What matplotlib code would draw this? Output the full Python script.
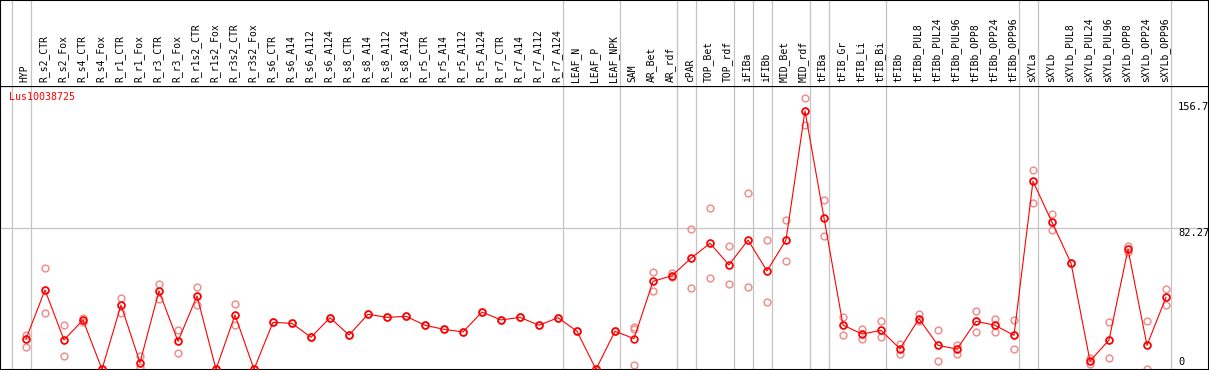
import matplotlib
matplotlib.use("Agg")
import matplotlib.pyplot as plt
from matplotlib.transforms import blended_transform_factory

gene = "Lus10038725"
categories = ["HYP", "R_s2_CTR", "R_s2_Fox", "R_s4_CTR", "R_s4_Fox", "R_r1_CTR", "R_r1_Fox",
              "R_r3_CTR", "R_r3_Fox", "R_r1s2_CTR", "R_r1s2_Fox", "R_r3s2_CTR", "R_r3s2_Fox",
              "R_s6_CTR", "R_s6_A14", "R_s6_A112", "R_s6_A124", "R_s8_CTR", "R_s8_A14",
              "R_s8_A112", "R_s8_A124", "R_r5_CTR", "R_r5_A14", "R_r5_A112", "R_r5_A124",
              "R_r7_CTR", "R_r7_A14", "R_r7_A112", "R_r7_A124", "LEAF_N", "LEAF_P", "LEAF_NPK",
              "SAM", "AR_Bet", "AR_rdf", "cPAR", "TOP_Bet", "TOP_rdf", "iFIBa", "iFIBb",
              "MID_Bet", "MID_rdf", "tFIBa", "tFIB_Gr", "tFIB_Li", "tFIB_Bi", "tFIBb",
              "tFIBb_PUL8", "tFIBb_PUL24", "tFIBb_PUL96", "tFIBb_OPP8", "tFIBb_OPP24",
              "tFIBb_OPP96", "sXYLa", "sXYLb", "sXYLb_PUL8", "sXYLb_PUL24", "sXYLb_PUL96",
              "sXYLb_OPP8", "sXYLb_OPP24", "sXYLb_OPP96"]

means = [17.7, 46.3, 17.1, 28.8, 0.0, 37.5, 3.9, 45.7, 16.3, 42.8, 0.0, 31.7, 0.0,
         27.4, 26.8, 18.7, 30.1, 20.0, 32.1, 30.3, 30.9, 25.7, 23.3, 21.8, 33.4,
         28.8, 30.3, 25.7, 30.1, 22.2, 0.0, 22.2,
         17.9, 51.3, 54.6, 64.8, 73.5, 60.9, 75.4, 57.4, 75.4, 150.7, 88.3,
         25.8, 20.6, 22.7, 12.0, 29.5, 14.0, 11.8, 28.0, 25.7, 19.8,
         109.7, 85.8, 62.0, 4.8, 17.1, 70.0, 14.0, 42.0]

replicates = [
    [20.0, 17.9, 12.8], [58.9, 32.7, 46.3], [25.7, 7.6, 17.1], [30.1, 28.8, 27.8],
    [0.0, 0.0, 0.0], [41.4, 33.0, 37.5], [7.8, 1.5, 3.9], [49.8, 40.8, 45.7],
    [22.9, 9.3, 16.3], [48.0, 37.5, 42.8], [0.0, 0.0, 0.0], [37.9, 25.7, 31.7],
    [0.0, 0.0, 0.0], [27.4, 27.4, 27.4], [26.8, 26.8, 26.8], [18.7, 18.7, 18.7],
    [30.1, 30.1, 30.1], [20.0, 20.0, 20.0], [32.1, 32.1, 32.1], [30.3, 30.3, 30.3],
    [30.9, 30.9, 30.9], [25.7, 25.7, 25.7], [23.3, 23.3, 23.3], [21.8, 21.8, 21.8],
    [33.4, 33.4, 33.4], [28.8, 28.8, 28.8], [30.3, 30.3, 30.3], [25.7, 25.7, 25.7],
    [30.1, 30.1, 30.1], [22.2, 22.2, 22.2], [0.0, 0.0, 0.0], [22.2, 22.2, 22.2],
    [24.9, 23.3, 2.3], [56.6, 45.9, 51.3], [56.0, 53.6, 54.6], [81.7, 47.3, 64.8],
    [94.1, 53.1, 73.5], [71.9, 49.8, 60.9], [102.7, 48.0, 75.4], [75.3, 39.3, 57.4],
    [87.1, 63.0, 75.4], [158.1, 142.5, 150.7], [98.8, 77.8, 88.3],
    [30.3, 19.8, 25.8], [23.3, 17.5, 20.6], [28.2, 19.0, 22.7], [14.8, 8.8, 12.0],
    [32.3, 28.0, 29.5], [22.7, 4.7, 14.0], [14.2, 8.9, 11.8], [34.0, 21.8, 28.0],
    [29.3, 21.8, 25.7], [28.8, 11.8, 19.8], [116.3, 96.8, 109.7], [90.4, 81.1, 85.8],
    [62.0, 62.0, 62.0], [6.4, 3.1, 4.8], [27.6, 6.8, 17.1], [71.8, 68.3, 70.0],
    [28.2, 0.4, 14.0], [46.7, 37.3, 42.0]]

ytick_values = [156.7, 82.27, 0]
ytick_labels = ["156.7", "82.27", "0"]
group_ends = [-1, 0, 28, 31, 34, 35, 37, 38, 39, 41, 42, 45, 52, 53, 60]

W, H = 1209, 370
HEADER = 85.5
fig = plt.figure(figsize=(W / 100, H / 100), dpi=100)

x0_px, step_px = 26.0, 19.0
xlim = (-x0_px / step_px, (W - x0_px) / step_px)
zero_px, scale = 369.3, 1.714
ylim = ((zero_px - H) / scale, (zero_px - HEADER) / scale)

ax = fig.add_axes([0, 0, 1, (H - HEADER) / H])
hx = fig.add_axes([0, (H - HEADER) / H, 1, HEADER / H])
for a in (ax, hx):
    a.set_xlim(*xlim)
    a.set_xticks([])
    a.set_yticks([])
    for s in a.spines.values():
        s.set_color("black")
        s.set_linewidth(1.5)
ax.spines["top"].set_linewidth(0.9)
hx.spines["bottom"].set_visible(False)
ax.set_ylim(*ylim)
hx.set_ylim(0, 1)

grid_col = "#c4c4c4"
for g in group_ends:
    ax.axvline(g + 0.25, color=grid_col, lw=0.9, zorder=0)
    hx.axvline(g + 0.25, color=grid_col, lw=0.9, zorder=0)
ax.axhline(82.27, color=grid_col, lw=0.9, zorder=0)

xs = list(range(len(categories)))
rx, ry = [], []
for i, reps in enumerate(replicates):
    for r in reps:
        rx.append(i)
        ry.append(r)
ax.plot(rx, ry, linestyle="none", marker="o", markersize=4.9, markerfacecolor="none",
        markeredgecolor="#ee9090", markeredgewidth=1.1, zorder=2, clip_on=False)
ax.plot(xs, means, color="#ff0000", lw=0.8, marker="o", markersize=4.9,
        markerfacecolor="none", markeredgecolor="#ff0000", markeredgewidth=1.2,
        zorder=3, clip_on=True)

mono = "DejaVu Sans Mono"
trans = blended_transform_factory(hx.transData, hx.transAxes)
for i, c in enumerate(categories):
    hx.text(i - 0.07, 3.5 / HEADER, c, rotation=90, ha="center", va="bottom",
            fontsize=7, family=mono, transform=trans, color="black")

fig.text(9.3 / W, 1 - 96.7 / H, gene, color="#ff0000", fontsize=7.2, family=mono,
         ha="left", va="center")

label_px = [106.7, 232.7, 361.7]
for lab, py in zip(ytick_labels, label_px):
    fig.text(1178 / W, 1 - py / H, lab, fontsize=7.5, family=mono, ha="left",
             va="center", color="black")

fig.savefig("out.png", dpi=100)
